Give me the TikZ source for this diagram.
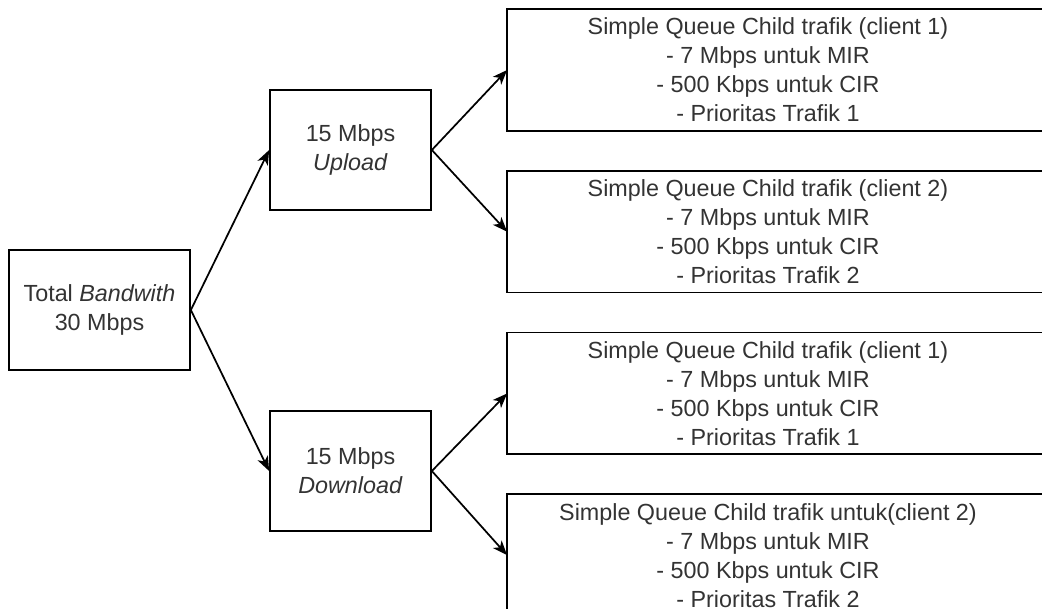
\documentclass[tikz,border=0pt]{standalone}
\usepackage{fontspec}
\setmainfont{Liberation Sans}
\usetikzlibrary{positioning,arrows.meta}

\begin{document}
\begin{tikzpicture}[
  x=0.75pt, y=-0.75pt,
  font=\fontsize{17.5}{21.75}\selectfont, >={Stealth[length=11pt,width=8.5pt,inset=3pt]},
  node distance=30pt,
  box/.style={draw, line width=1.3pt, align=center, inner sep=0pt,
              minimum height=90pt, text=black!80},
  small/.style={box, minimum width=120.75pt},
  child/.style={box, draw=none, minimum width=390pt},
  boxline/.style={draw, line width=1.3pt},
  arr/.style={->, line width=1.3pt},
]
\useasboundingbox (0,0) rectangle (1042,608);
\clip (0,0) rectangle (1042,608);

\node[box, minimum width=135.75pt] (total) at (99.5,310) {Total \textit{Bandwith}\\30 Mbps};
\node[small] (up) at (350.5,150) {15 Mbps\\\textit{Upload}};
\node[small] (down) at (350.5,471) {15 Mbps\\\textit{Download}};

\node[child] (c1) at (768,70)
  {Simple Queue Child trafik (client 1)\\- 7 Mbps untuk MIR\\- 500 Kbps untuk CIR\\- Prioritas Trafik 1};
\node[child, below=of c1] (c2)
  {Simple Queue Child trafik (client 2)\\- 7 Mbps untuk MIR\\- 500 Kbps untuk CIR\\- Prioritas Trafik 2};
\node[child, below=of c2] (c3)
  {Simple Queue Child trafik (client 1)\\- 7 Mbps untuk MIR\\- 500 Kbps untuk CIR\\- Prioritas Trafik 1};
\node[child, below=of c3] (c4)
  {Simple Queue Child trafik untuk(client 2)\\- 7 Mbps untuk MIR\\- 500 Kbps untuk CIR\\- Prioritas Trafik 2};
% boxes run off the right edge of the page
\foreach \n in {c1,c2,c3,c4}
  \draw[boxline] (\n.north west) rectangle ([xshift=30pt]\n.south east);

\draw[arr] (total.east) -- (up.west);
\draw[arr] (total.east) -- (down.west);
\draw[arr] (up.east) -- (c1.west);
\draw[arr] (up.east) -- (c2.west);
\draw[arr] (down.east) -- (c3.west);
\draw[arr] (down.east) -- (c4.west);
\end{tikzpicture}
\end{document}
